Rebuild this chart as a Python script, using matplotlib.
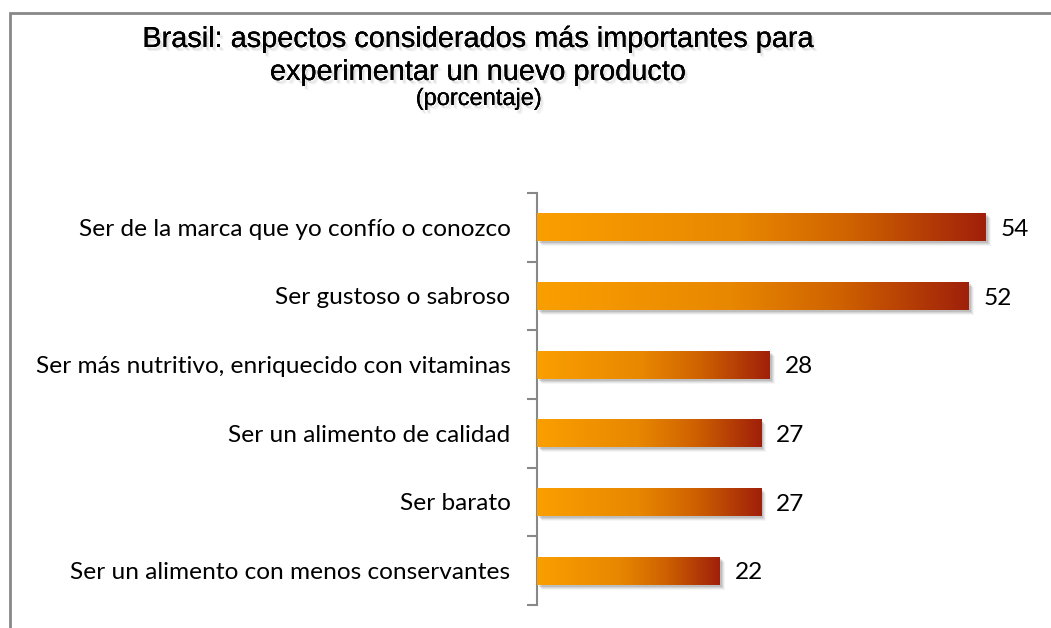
"""
Brasil: aspectos considerados más importantes para experimentar un nuevo producto
"""

import numpy as np
import matplotlib.pyplot as plt
import matplotlib.patheffects as pe
import matplotlib.transforms as mtransforms
from matplotlib.colors import LinearSegmentedColormap
from matplotlib.patches import Rectangle


# Datos
categorias = ['Ser de la marca que yo confío o conozco',
              'Ser gustoso o sabroso',
              'Ser más nutritivo, enriquecido con vitaminas',
              'Ser un alimento de calidad',
              'Ser barato',
              'Ser un alimento con menos conservantes']
valores = [54, 52, 28, 27, 27, 22]

titulo = ['Brasil: aspectos considerados más importantes para',
          'experimentar un nuevo producto']
subtitulo = '(porcentaje)'

# Degradado de las barras
degradado = LinearSegmentedColormap.from_list(
    'naranja', [(0.0, '#FA9F00'), (0.45, '#E88700'), (0.7, '#CF6200'), (1.0, '#A0200A')])

fig = plt.figure(figsize=(10.51, 6.28), dpi=100)

# Marco de la figura
fig.patches.append(Rectangle((10 / 1051, -0.1), 1.2, 1.1 - 13 / 628, transform=fig.transFigure,
                             fill=False, edgecolor='#888888', linewidth=2))

ax = fig.add_axes([537 / 1051, 23 / 628, 515 / 1051, 412 / 628])

altura = 0.41
for i, v in enumerate(valores):
    # Sombra difusa
    for k, a in enumerate([0.10, 0.08, 0.06, 0.04]):
        sombra = Rectangle((0, i - altura / 2), v, altura, facecolor='black', edgecolor='none',
                           alpha=a, zorder=1)
        ax.add_patch(sombra)
        sombra.set_transform(ax.transData + mtransforms.ScaledTranslation(
            (2 + k) / 100, -(2 + k) / 100, fig.dpi_scale_trans))
    barra = Rectangle((0, i - altura / 2), v, altura, facecolor='none', edgecolor='none', zorder=2)
    ax.add_patch(barra)
    gradiente = np.linspace(0, 1, 256).reshape(1, -1)
    img = ax.imshow(gradiente, cmap=degradado, aspect='auto', zorder=3,
                    extent=[0, v, i + altura / 2, i - altura / 2], interpolation='bicubic')
    img.set_clip_path(barra)
    ax.text(v + 1.8, i + 0.03, str(v), va='center', ha='left', fontsize=17.6, family='Lato',
            color='black')

ax.set_xlim(0, 62)
ax.set_ylim(len(categorias) - 0.5, -0.5)

# Ejes
for lado in ['top', 'right', 'bottom']:
    ax.spines[lado].set_visible(False)
ax.spines['left'].set_color('#888888')
ax.spines['left'].set_linewidth(1.5)
ax.set_xticks([])
ax.set_yticks(np.arange(-0.5, len(categorias), 1))
ax.set_yticklabels([])
ax.tick_params(axis='y', which='major', length=7, width=1.5, color='#888888')
ax.set_yticks(range(len(categorias)), minor=True)
ax.set_yticklabels(categorias, minor=True, fontsize=17.6, family='Lato')
ax.tick_params(axis='y', which='minor', length=0, pad=19)

# Títulos con sombra suave
sombra_txt = [pe.withSimplePatchShadow(offset=(1.5, -2), alpha=0.08),
              pe.withSimplePatchShadow(offset=(2.5, -3), alpha=0.05), pe.Normal()]
for linea, y in zip(titulo, [47, 80]):
    fig.text(478 / 1051, 1 - y / 628, linea, ha='center', va='baseline', fontsize=20.8,
             family='Liberation Sans', path_effects=sombra_txt)
fig.text(479 / 1051, 1 - 105 / 628, subtitulo, ha='center', va='baseline', fontsize=17,
         family='Liberation Sans', path_effects=sombra_txt)

fig.savefig('out.png', dpi=100)
